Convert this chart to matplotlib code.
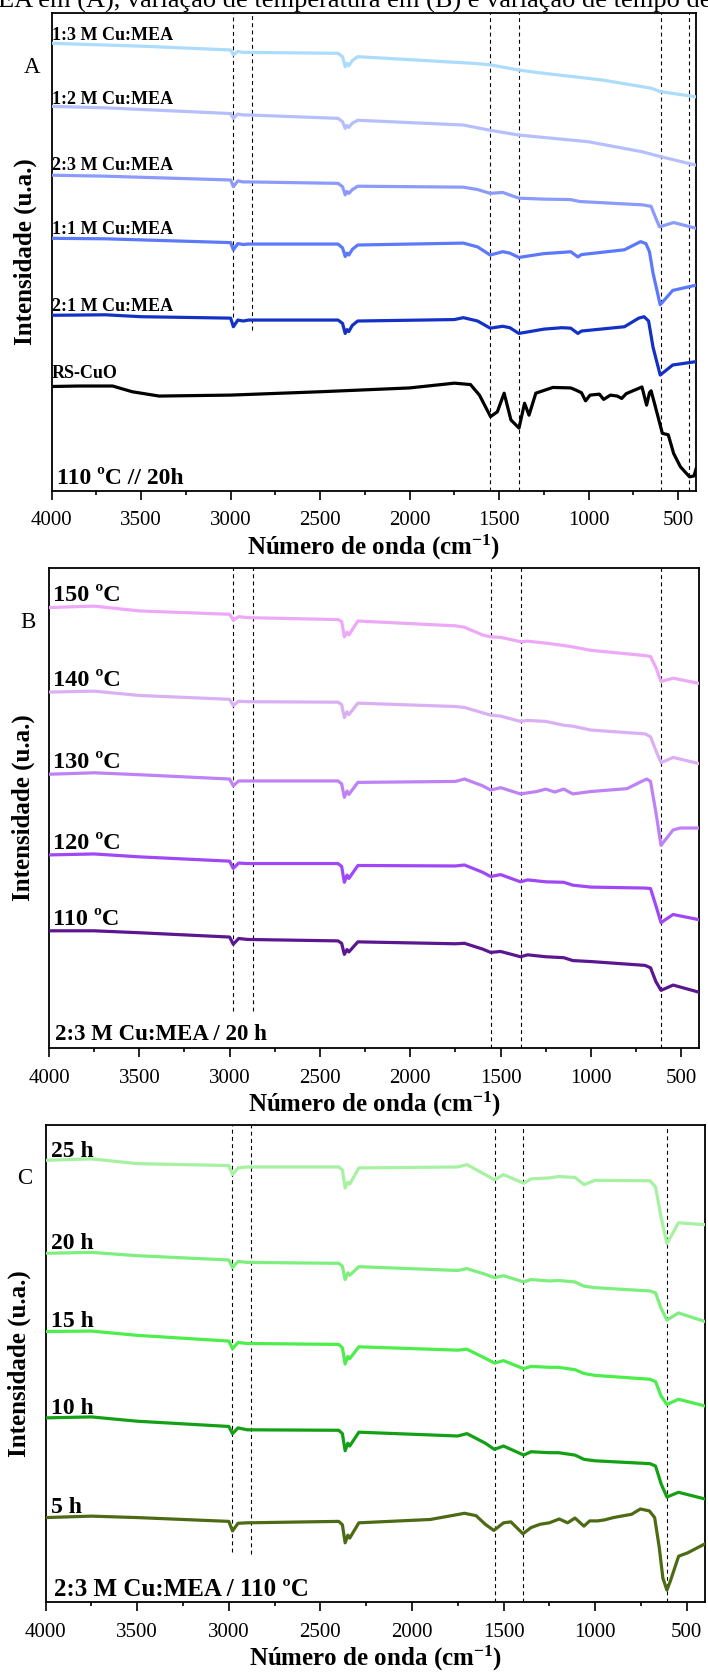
import matplotlib
matplotlib.use("Agg")
from matplotlib import pyplot as plt
from matplotlib.ticker import MultipleLocator, FixedLocator

plt.rcParams['font.family'] = ['Liberation Serif', 'DejaVu Serif']
plt.rcParams['mathtext.fontset'] = 'custom'
plt.rcParams['mathtext.rm'] = 'Liberation Serif:bold'
plt.rcParams['mathtext.bf'] = 'Liberation Serif:bold'
plt.rcParams['mathtext.it'] = 'Liberation Serif:bold:italic'

# ---------------- (A) razão molar Cu:MEA, 110 ºC / 20 h ----------------
a_names = ['1:3 M Cu:MEA', '1:2 M Cu:MEA', '2:3 M Cu:MEA', '1:1 M Cu:MEA', '2:1 M Cu:MEA', 'RS-CuO']

a_x13 = [4000, 3500, 3000, 2985, 2960, 2930, 2900, 2400, 2375, 2360, 2350, 2340, 2320, 2290,
         1640, 1550, 1390, 1290, 920, 650, 600, 400]
a_y13 = [0.936, 0.930, 0.922, 0.912, 0.919, 0.917, 0.917, 0.915, 0.908, 0.887, 0.894, 0.889, 0.900, 0.908,
         0.894, 0.891, 0.880, 0.875, 0.859, 0.842, 0.835, 0.824]

a_x12 = [4000, 3700, 3000, 2985, 2960, 2930, 2900, 2400, 2375, 2360, 2350, 2340, 2320, 2290,
         1700, 1550, 1390, 1000, 700, 600, 400]
a_y12 = [0.804, 0.801, 0.789, 0.779, 0.788, 0.786, 0.786, 0.779, 0.772, 0.758, 0.764, 0.760, 0.769, 0.775,
         0.765, 0.754, 0.744, 0.730, 0.709, 0.699, 0.681]

a_x23 = [4000, 3700, 3000, 2985, 2960, 2930, 2900, 2400, 2375, 2360, 2350, 2340, 2320, 2290,
         1700, 1620, 1550, 1480, 1390, 1250, 1100, 1050, 700, 651, 630, 604, 525, 400]
a_y23 = [0.660, 0.658, 0.650, 0.636, 0.648, 0.646, 0.646, 0.643, 0.636, 0.619, 0.626, 0.622, 0.630, 0.637,
         0.635, 0.630, 0.622, 0.624, 0.612, 0.610, 0.609, 0.605, 0.598, 0.595, 0.575, 0.552, 0.561, 0.549]

a_x11 = [4000, 3700, 3000, 2985, 2960, 2930, 2900, 2400, 2375, 2360, 2350, 2340, 2320, 2290,
         1700, 1620, 1550, 1480, 1440, 1390, 1250, 1130, 1100, 1060, 1040, 800, 710, 680, 660, 640, 600, 530, 400]
a_y11 = [0.528, 0.527, 0.519, 0.504, 0.517, 0.515, 0.516, 0.516, 0.508, 0.490, 0.497, 0.493, 0.505, 0.514,
         0.518, 0.510, 0.493, 0.500, 0.497, 0.488, 0.496, 0.499, 0.500, 0.489, 0.494, 0.504, 0.521, 0.517,
         0.500, 0.455, 0.389, 0.419, 0.430]

a_x21 = [4000, 3700, 3500, 3000, 2985, 2960, 2930, 2900, 2400, 2375, 2360, 2350, 2340, 2320, 2290,
         1750, 1700, 1620, 1550, 1480, 1440, 1390, 1250, 1150, 1100, 1060, 1040, 800, 720, 690, 665, 640,
         600, 530, 400]
a_y21 = [0.367, 0.368, 0.364, 0.361, 0.343, 0.357, 0.355, 0.357, 0.357, 0.350, 0.329, 0.337, 0.333, 0.346,
         0.355, 0.358, 0.362, 0.355, 0.340, 0.344, 0.341, 0.329, 0.338, 0.341, 0.340, 0.329, 0.334, 0.343,
         0.361, 0.364, 0.355, 0.300, 0.242, 0.263, 0.270]

a_xcuo = [4000, 3850, 3660, 3550, 3400, 3200, 3000, 2500, 2000, 1750, 1660, 1610, 1548, 1510, 1472, 1434,
          1389, 1358, 1333, 1295, 1200, 1100, 1080, 1040, 1017, 992, 940, 916, 878, 840, 815, 790, 702,
          676, 660, 651, 630, 588, 555, 525, 487, 436, 411, 400]
a_ycuo = [0.218, 0.219, 0.219, 0.207, 0.198, 0.199, 0.200, 0.207, 0.215, 0.225, 0.222, 0.200, 0.155, 0.165,
          0.204, 0.148, 0.131, 0.183, 0.158, 0.204, 0.216, 0.215, 0.212, 0.205, 0.188, 0.200, 0.202, 0.191,
          0.200, 0.198, 0.193, 0.203, 0.217, 0.179, 0.205, 0.209, 0.180, 0.120, 0.117, 0.078, 0.050, 0.029,
          0.031, 0.045]

a_lines = [2985, 2880, 1550, 1390, 598, 440]

# ---------------- (B) temperatura, 2:3 M Cu:MEA / 20 h ----------------
b_names = ['150 ºC', '140 ºC', '130 ºC', '120 ºC', '110 ºC']

b_x = [4000, 3750, 3500, 3000, 2980, 2950, 2900, 2400, 2380, 2365, 2350, 2340, 2290, 1750, 1700,
       1600, 1555, 1500, 1390, 1350, 1250, 1150, 1100, 1000, 700, 670, 640, 612, 545, 400]
b_y150 = [0.917, 0.920, 0.910, 0.903, 0.891, 0.898, 0.896, 0.892, 0.888, 0.856, 0.866, 0.860, 0.889, 0.879,
          0.876, 0.860, 0.856, 0.855, 0.846, 0.847, 0.843, 0.838, 0.835, 0.828, 0.817, 0.815, 0.792, 0.763,
          0.770, 0.759]
b_y140 = [0.741, 0.743, 0.734, 0.726, 0.713, 0.722, 0.721, 0.720, 0.715, 0.688, 0.700, 0.694, 0.718, 0.711,
          0.709, 0.698, 0.693, 0.691, 0.680, 0.682, 0.680, 0.672, 0.670, 0.662, 0.654, 0.648, 0.619, 0.594,
          0.605, 0.592]
b_y120 = [0.402, 0.404, 0.398, 0.389, 0.374, 0.385, 0.384, 0.384, 0.378, 0.345, 0.360, 0.353, 0.380, 0.379,
          0.381, 0.366, 0.357, 0.361, 0.346, 0.350, 0.346, 0.345, 0.339, 0.335, 0.333, 0.332, 0.296, 0.261,
          0.278, 0.267]
b_y110 = [0.244, 0.244, 0.240, 0.231, 0.216, 0.228, 0.226, 0.223, 0.218, 0.195, 0.205, 0.200, 0.221, 0.217,
          0.218, 0.206, 0.199, 0.201, 0.190, 0.194, 0.190, 0.188, 0.182, 0.180, 0.172, 0.167, 0.138, 0.120,
          0.131, 0.116]

b_x130 = [4000, 3750, 3500, 3000, 2980, 2950, 2900, 2400, 2380, 2365, 2350, 2340, 2290, 1750, 1700,
          1600, 1555, 1500, 1390, 1300, 1250, 1200, 1150, 1100, 1000, 800, 720, 690, 670, 640, 612, 545,
          505, 400]
b_y130 = [0.570, 0.573, 0.569, 0.560, 0.546, 0.556, 0.556, 0.556, 0.550, 0.522, 0.535, 0.528, 0.553, 0.555,
          0.560, 0.546, 0.537, 0.542, 0.529, 0.534, 0.539, 0.533, 0.539, 0.529, 0.534, 0.540, 0.555, 0.560,
          0.555, 0.490, 0.422, 0.454, 0.458, 0.458]

b_lines = [2980, 2868, 1555, 1388, 613]

# ---------------- (C) tempo, 2:3 M Cu:MEA / 110 ºC ----------------
c_names = ['25 h', '20 h', '15 h', '10 h', '5 h']

c_x = [4000, 3750, 3500, 3000, 2980, 2950, 2900, 2400, 2380, 2365, 2350, 2340, 2290, 1750, 1700,
       1600, 1550, 1500, 1390, 1350, 1250, 1200, 1110, 1060, 1000, 700, 670, 640, 608, 545, 400]
c_y25 = [0.926, 0.929, 0.919, 0.915, 0.896, 0.910, 0.912, 0.912, 0.906, 0.868, 0.880, 0.876, 0.910, 0.912,
         0.917, 0.896, 0.885, 0.896, 0.878, 0.887, 0.889, 0.892, 0.890, 0.875, 0.884, 0.883, 0.870, 0.807,
         0.751, 0.795, 0.791]
c_y20 = [0.731, 0.733, 0.726, 0.717, 0.701, 0.714, 0.712, 0.710, 0.704, 0.676, 0.690, 0.685, 0.703, 0.695,
         0.699, 0.687, 0.680, 0.684, 0.671, 0.676, 0.673, 0.674, 0.671, 0.662, 0.659, 0.652, 0.648, 0.616,
         0.591, 0.606, 0.588]
c_y15 = [0.567, 0.568, 0.559, 0.547, 0.531, 0.544, 0.542, 0.540, 0.533, 0.499, 0.515, 0.510, 0.535, 0.528,
         0.530, 0.511, 0.501, 0.506, 0.489, 0.494, 0.492, 0.492, 0.487, 0.479, 0.475, 0.467, 0.462, 0.432,
         0.414, 0.425, 0.411]
c_y10 = [0.386, 0.388, 0.379, 0.368, 0.353, 0.365, 0.361, 0.360, 0.353, 0.317, 0.333, 0.327, 0.356, 0.348,
         0.353, 0.333, 0.320, 0.327, 0.308, 0.315, 0.313, 0.313, 0.308, 0.299, 0.296, 0.290, 0.285, 0.248,
         0.220, 0.230, 0.216]

c_x5 = [4000, 3750, 3500, 3000, 2980, 2950, 2900, 2400, 2380, 2365, 2350, 2340, 2290, 1900, 1713, 1650,
        1600, 1553, 1500, 1460, 1394, 1350, 1300, 1250, 1196, 1150, 1110, 1061, 1030, 987, 950, 900, 800,
        753, 704, 675, 650, 630, 608, 590, 544, 495, 400]
c_y5 = [0.177, 0.180, 0.177, 0.169, 0.149, 0.165, 0.166, 0.169, 0.162, 0.124, 0.140, 0.134, 0.166, 0.173,
        0.186, 0.181, 0.163, 0.150, 0.166, 0.168, 0.143, 0.156, 0.163, 0.166, 0.174, 0.166, 0.176, 0.159,
        0.170, 0.170, 0.172, 0.177, 0.184, 0.195, 0.191, 0.177, 0.115, 0.050, 0.025, 0.043, 0.096, 0.103,
        0.122]

c_lines = [2981, 2878, 1549, 1393, 605]

major_ticks = [4000, 3500, 3000, 2500, 2000, 1500, 1000, 500]

W, H = 708, 1673
fig = plt.figure(figsize=(W / 100, H / 100), dpi=100)

# legenda do documento, cortada na borda superior
fig.text(-2 / W, 1 - 7.5 / H,
         'EA em (A), variação de temperatura em (B) e variação de tempo de',
         fontsize=19, va='baseline', ha='left')


def panel(box, curves, names, colors, label_dy, label_x, label_size,
          lines, line_floor, letter, letter_xy, note, note_xy, note_size):
    l, t, r, b = box
    w, h = r - l, b - t
    ax = fig.add_axes([l / W, 1 - b / H, w / W, h / H])

    for (x, y), name, c, dy in zip(curves, names, colors, label_dy):
        ax.plot(x, y, color=c, lw=2.3, solid_joinstyle='round', zorder=3)
        ax.text(label_x, y[0] + dy, name, fontsize=label_size, fontweight='bold',
                va='baseline', ha='left', zorder=4)

    for v, lo in zip(lines, line_floor):
        ax.axvline(v, ymin=lo, ymax=1, color='black', lw=0.8, ls=(0, (3.5, 3)), zorder=2)

    ax.set_xlim(4000, 400)
    ax.set_ylim(0, 1)
    ax.set_yticks([])
    ax.xaxis.set_major_locator(FixedLocator(major_ticks))
    ax.xaxis.set_minor_locator(MultipleLocator(250))
    ax.tick_params(axis='x', which='major', direction='out', length=6.3, width=1.2,
                   labelsize=15, pad=8.5)
    ax.tick_params(axis='x', which='minor', direction='out', length=2.9, width=1.2)
    for s in ax.spines.values():
        s.set_linewidth(1.3)

    ax.text(0.5, -64 / h, 'Número de onda (cm$^{-1}$)', transform=ax.transAxes,
            ha='center', va='baseline', fontsize=18, fontweight='bold')
    ax.text(-26 / w, 0.5, 'Intensidade (u.a.)', transform=ax.transAxes, rotation=90,
            ha='center', va='center', fontsize=18, fontweight='bold')
    ax.text((letter_xy[0] - l) / w, (b - letter_xy[1]) / h, letter, transform=ax.transAxes,
            ha='center', va='center', fontsize=16.5)
    ax.text((note_xy[0] - l) / w, (b - note_xy[1]) / h, note, transform=ax.transAxes,
            ha='left', va='baseline', fontsize=note_size, fontweight='bold')
    return ax


panel((51.7, 12.7, 696, 490.7),
      [(a_x13, a_y13), (a_x12, a_y12), (a_x23, a_y23), (a_x11, a_y11), (a_x21, a_y21), (a_xcuo, a_ycuo)],
      a_names,
      ['#abdcfb', '#b6bffd', '#8b9bfc', '#5d79fb', '#1431c6', '#000000'],
      [0.006, 0.006, 0.010, 0.008, 0.009, 0.018], 4000, 13,
      a_lines, [0.364, 0.336, 0, 0, 0, 0],
      'A', (32, 68), '110 ºC // 20h', (57, 484), 17)

panel((49, 567.7, 699.3, 1048),
      [(b_x, b_y150), (b_x, b_y140), (b_x130, b_y130), (b_x, b_y120), (b_x, b_y110)],
      b_names,
      ['#eea8f8', '#dab0f5', '#bf82f6', '#a047f6', '#5a178f'],
      [0.013, 0.013, 0.013, 0.013, 0.013], 3977, 17.5,
      b_lines, [0.077, 0.077, 0, 0, 0],
      'B', (28.3, 622.7), '2:3 M Cu:MEA / 20 h', (55, 1040), 16.5)

panel((45.7, 1125, 705, 1602),
      [(c_x, c_y25), (c_x, c_y20), (c_x, c_y15), (c_x, c_y10), (c_x5, c_y5)],
      c_names,
      ['#a6f2a2', '#7eef7e', '#4bee4b', '#14a014', '#4c6b14'],
      [0.006, 0.009, 0.009, 0.009, 0.010], 3972, 17,
      c_lines, [0.105, 0.101, 0, 0, 0],
      'C', (25, 1179), '2:3 M Cu:MEA / 110 ºC', (54.3, 1596), 18)

fig.savefig('out.png', dpi=100)
